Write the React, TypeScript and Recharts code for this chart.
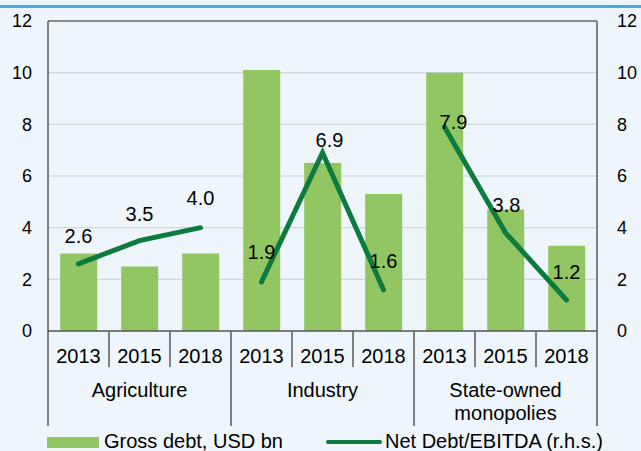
import React from "react";
import {
  ComposedChart,
  Bar,
  Line,
  XAxis,
  YAxis,
  CartesianGrid,
  ReferenceLine,
  LabelList,
} from "recharts";

// chart data
const groups = ["Agriculture", "Industry", "State-owned monopolies"];
const years = ["2013", "2015", "2018"];
const grossDebt = [3.0, 2.5, 3.0, 10.1, 6.5, 5.3, 10.0, 4.7, 3.3];
const netDebtEbitda = [2.6, 3.5, 4.0, 1.9, 6.9, 1.6, 7.9, 3.8, 1.2];
const yTicks = [0, 2, 4, 6, 8, 10, 12];

const BAR_COLOR = "#92C662";
const LINE_COLOR = "#0D7A3E";
const AXIS_COLOR = "#5a5a5a";
const FONT = "'Liberation Sans', Arial, sans-serif";

// one line per sector so the line breaks between groups
const lineKeys = ["lineA", "lineB", "lineC"];

const data = grossDebt.map((gross, i) => {
  const row: any = {
    key: groups[Math.floor(i / 3)] + " " + years[i % 3],
    year: years[i % 3],
    gross,
  };
  lineKeys.forEach((k, g) => {
    row[k] = Math.floor(i / 3) === g ? netDebtEbitda[i] : null;
  });
  return row;
});

// label nudges (dx, dy from the point), hand placed like the original
const labelNudge: Record<number, [number, number]> = {
  0: [0, -28],
  1: [0, -27],
  2: [0, -30],
  3: [0, -30],
  4: [7, -13],
  5: [0, -29],
  6: [9, -5],
  7: [1, -28],
  8: [0, -28],
};

const PointLabel = (props: any) => {
  const { x, y, value, index } = props;
  if (value == null) return null;
  const [dx, dy] = labelNudge[index] || [0, -28];
  return (
    <text
      x={x + dx}
      y={y + dy}
      textAnchor="middle"
      dominantBaseline="central"
      fontSize={20}
      fontFamily={FONT}
      fill="#000"
    >
      {Number(value).toFixed(1)}
    </text>
  );
};

const CategoryTick = (props: any) => {
  const { x, y, payload, index } = props;
  const bw = payload && payload.offset ? payload.offset * 2 : 61;
  const left = x - bw / 2;
  const right = x + bw / 2;
  const groupStart = index % 3 === 0;
  const groupMid = index % 3 === 1;
  const last = index === data.length - 1;
  const label = groups[Math.floor(index / 3)];
  const lines = label === "State-owned monopolies" ? ["State-owned", "monopolies"] : [label];
  return (
    <g>
      <line
        x1={left}
        x2={left}
        y1={y}
        y2={groupStart ? y + 95 : y + 36}
        stroke={AXIS_COLOR}
        strokeWidth={1.5}
      />
      {last && (
        <line x1={right} x2={right} y1={y} y2={y + 95} stroke={AXIS_COLOR} strokeWidth={1.5} />
      )}
      <text
        x={x}
        y={y + 25}
        textAnchor="middle"
        dominantBaseline="central"
        fontSize={20}
        fontFamily={FONT}
        fill="#000"
      >
        {payload.value.slice(-4)}
      </text>
      {groupMid &&
        lines.map((t, j) => (
          <text
            key={t}
            x={x}
            y={y + 59 + j * 23}
            textAnchor="middle"
            dominantBaseline="central"
            fontSize={20}
            fontFamily={FONT}
            fill="#000"
          >
            {t}
          </text>
        ))}
    </g>
  );
};

const tickStyle = { fontSize: 18, fontFamily: FONT, fill: "#000" };

const legendText: React.CSSProperties = {
  position: "absolute",
  top: 432,
  fontSize: 20,
  fontFamily: FONT,
  lineHeight: "19px",
  color: "#000",
  whiteSpace: "nowrap",
};

export default function App() {
  return (
    <div
      style={{
        position: "fixed",
        left: 0,
        top: 0,
        width: 641,
        height: 451,
        background: "#EFF6FB",
        overflow: "hidden",
      }}
    >
      <div
        style={{
          position: "absolute",
          left: 0,
          top: 5,
          width: 641,
          height: 2.5,
          background: "#47A8DF",
        }}
      />
      <ComposedChart
        width={641}
        height={451}
        data={data}
        margin={{ top: 21, right: 0, bottom: 0, left: 0 }}
        barCategoryGap="20%"
      >
        <CartesianGrid vertical={false} stroke="#c8ced2" strokeWidth={1} yAxisId="left" />
        <XAxis
          dataKey="key"
          height={120}
          interval={0}
          tickSize={0}
          tickMargin={0}
          tickLine={false}
          axisLine={{ stroke: AXIS_COLOR, strokeWidth: 1.5 }}
          tick={<CategoryTick />}
        />
        <YAxis
          yAxisId="left"
          width={48}
          domain={[0, 12]}
          ticks={yTicks}
          tickLine={false}
          tickSize={0}
          tickMargin={16}
          axisLine={{ stroke: AXIS_COLOR, strokeWidth: 1.5 }}
          tick={tickStyle}
        />
        <YAxis
          yAxisId="right"
          orientation="right"
          width={44}
          domain={[0, 12]}
          ticks={yTicks}
          tickLine={false}
          tickSize={0}
          tickMargin={20}
          axisLine={{ stroke: AXIS_COLOR, strokeWidth: 1.5 }}
          tick={tickStyle}
        />
        <ReferenceLine yAxisId="left" y={12} stroke="#6e6e6e" strokeWidth={1.5} />
        <Bar yAxisId="left" dataKey="gross" fill={BAR_COLOR} isAnimationActive={false} />
        {lineKeys.map((k) => (
          <Line
            key={k}
            yAxisId="right"
            dataKey={k}
            stroke={LINE_COLOR}
            strokeWidth={5}
            strokeLinecap="round"
            dot={false}
            activeDot={false}
            connectNulls={false}
            isAnimationActive={false}
          >
            <LabelList dataKey={k} content={<PointLabel />} />
          </Line>
        ))}
      </ComposedChart>
      {/* legend */}
      <div
        style={{
          position: "absolute",
          left: 47,
          top: 437,
          width: 52,
          height: 11,
          background: BAR_COLOR,
        }}
      />
      <div style={{ ...legendText, left: 104 }}>Gross debt, USD bn</div>
      <div
        style={{
          position: "absolute",
          left: 326,
          top: 440,
          width: 56,
          height: 4,
          borderRadius: 2,
          background: LINE_COLOR,
        }}
      />
      <div style={{ ...legendText, left: 385 }}>Net Debt/EBITDA (r.h.s.)</div>
    </div>
  );
}
